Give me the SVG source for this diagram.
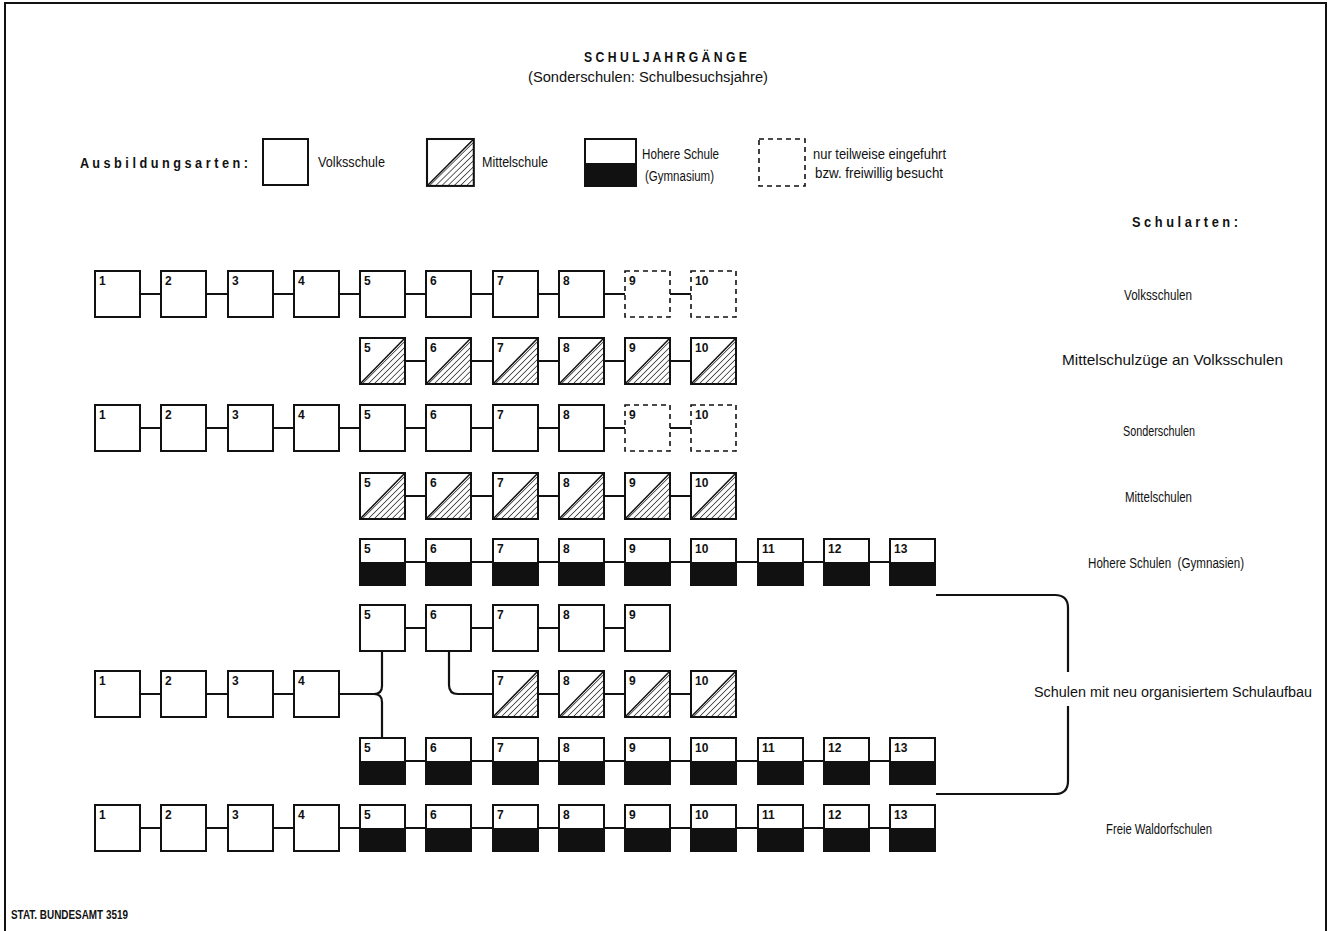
<svg xmlns="http://www.w3.org/2000/svg" xmlns:xlink="http://www.w3.org/1999/xlink" width="1333" height="931" viewBox="0 0 1333 931">
<style>
.bx{fill:none;stroke:#111;stroke-width:2}
.bxd{fill:none;stroke:#111;stroke-width:1.6;stroke-dasharray:5 4}
.blk{fill:#111}
.cn{fill:none;stroke:#111;stroke-width:2.2}
.num{font-family:"Liberation Sans",Arial,sans-serif;font-size:12px;font-weight:bold;fill:#111}
.lbl{font-family:"Liberation Sans",Arial,sans-serif;font-size:14px;fill:#111}
.hd{font-family:"Liberation Sans",Arial,sans-serif;font-size:14px;font-weight:bold;fill:#111}
</style>
<defs>
<pattern id="hatch" patternUnits="userSpaceOnUse" width="4.2" height="4.2" patternTransform="rotate(45)">
<line x1="0" y1="0" x2="0" y2="4.2" stroke="#111" stroke-width="1.3"/>
</pattern>
<g id="tv"><rect x="0" y="0" width="45" height="46" fill="#fff" class="bx"/></g>
<g id="tm"><rect x="0" y="0" width="45" height="46" fill="#fff"/><polygon points="0,46 45,0 45,46" fill="url(#hatch)"/><line x1="0" y1="46" x2="45" y2="0" stroke="#111" stroke-width="1.5"/><rect x="0" y="0" width="45" height="46" class="bx"/></g>
<g id="th"><rect x="0" y="0" width="45" height="46" fill="#fff"/><rect x="0" y="23" width="45" height="23" class="blk"/><rect x="0" y="0" width="45" height="46" class="bx"/></g>
<g id="td"><rect x="0" y="0" width="45" height="46" fill="#fff" class="bxd"/></g>
</defs>
<rect width="1333" height="931" fill="#fff"/>
<path d="M5,931 V3 H1326 V931" fill="none" stroke="#111" stroke-width="2"/>

<g id="title">
<text x="584" y="62" class="hd" font-size="15" textLength="163" lengthAdjust="spacingAndGlyphs">S C H U L J A H R G Ä N G E</text>
<text x="528" y="82" class="lbl" font-size="15" textLength="240" lengthAdjust="spacingAndGlyphs">(Sonderschulen: Schulbesuchsjahre)</text>
</g>

<g id="legend">
<text x="80" y="168" class="hd" font-size="15" textLength="168" lengthAdjust="spacingAndGlyphs">A u s b i l d u n g s a r t e n :</text>
<g id="legend-volksschule"><use xlink:href="#tv" x="263" y="139"/><text x="318" y="167" class="lbl" textLength="67" lengthAdjust="spacingAndGlyphs">Volksschule</text></g>
<g id="legend-mittelschule"><g transform="translate(427,139) scale(1.04,1.02)"><use xlink:href="#tm"/></g><text x="482" y="167" class="lbl" textLength="66" lengthAdjust="spacingAndGlyphs">Mittelschule</text></g>
<g id="legend-hoehere"><rect x="585" y="139" width="51" height="47" fill="#fff"/><rect x="585" y="163" width="51" height="23" class="blk"/><rect x="585" y="139" width="51" height="47" class="bx"/><text x="642" y="159" class="lbl" textLength="77" lengthAdjust="spacingAndGlyphs">Hohere Schule</text><text x="645" y="181" class="lbl" textLength="69" lengthAdjust="spacingAndGlyphs">(Gymnasium)</text></g>
<g id="legend-teilweise"><rect x="759" y="139" width="46" height="47" class="bxd"/><text x="813" y="159" class="lbl" textLength="133" lengthAdjust="spacingAndGlyphs">nur teilweise eingefuhrt</text><text x="815" y="178" class="lbl" textLength="128" lengthAdjust="spacingAndGlyphs">bzw. freiwillig besucht</text></g>
</g>

<text id="schularten" x="1132" y="227" class="hd" font-size="15" textLength="106" lengthAdjust="spacingAndGlyphs">S c h u l a r t e n :</text>

<g id="connectors">
<path class="cn" d="M140,294 H161 M206,294 H228 M273,294 H294 M339,294 H360 M405,294 H426 M471,294 H493 M538,294 H559 M604,294 H625 M670,294 H691"/>
<path class="cn" d="M405,361 H426 M471,361 H493 M538,361 H559 M604,361 H625 M670,361 H691"/>
<path class="cn" d="M140,428 H161 M206,428 H228 M273,428 H294 M339,428 H360 M405,428 H426 M471,428 H493 M538,428 H559 M604,428 H625 M670,428 H691"/>
<path class="cn" d="M405,496 H426 M471,496 H493 M538,496 H559 M604,496 H625 M670,496 H691"/>
<path class="cn" d="M405,562 H426 M471,562 H493 M538,562 H559 M604,562 H625 M670,562 H691 M736,562 H758 M803,562 H824 M869,562 H890"/>
<path class="cn" d="M405,628 H426 M471,628 H493 M538,628 H559 M604,628 H625"/>
<path class="cn" d="M140,694 H161 M206,694 H228 M273,694 H294 M538,694 H559 M604,694 H625 M670,694 H691"/>
<path class="cn" d="M339,694 H374 Q382,694 382,686 V651 M374,694 Q382,694 382,702 V738"/>
<path class="cn" d="M449,651 V685 Q449,694 458,694 H493"/>
<path class="cn" d="M405,761 H426 M471,761 H493 M538,761 H559 M604,761 H625 M670,761 H691 M736,761 H758 M803,761 H824 M869,761 H890"/>
<path class="cn" d="M140,828 H161 M206,828 H228 M273,828 H294 M339,828 H360 M405,828 H426 M471,828 H493 M538,828 H559 M604,828 H625 M670,828 H691 M736,828 H758 M803,828 H824 M869,828 H890"/>
<path class="cn" d="M936,595 H1055 Q1068,595 1068,608 V672 M1068,706 V781 Q1068,794 1055,794 H936"/>
</g>

<g id="row1">
<g id="r1-1"><use xlink:href="#tv" x="95" y="271"/><text x="99" y="285" class="num">1</text></g>
<g id="r1-2"><use xlink:href="#tv" x="161" y="271"/><text x="165" y="285" class="num">2</text></g>
<g id="r1-3"><use xlink:href="#tv" x="228" y="271"/><text x="232" y="285" class="num">3</text></g>
<g id="r1-4"><use xlink:href="#tv" x="294" y="271"/><text x="298" y="285" class="num">4</text></g>
<g id="r1-5"><use xlink:href="#tv" x="360" y="271"/><text x="364" y="285" class="num">5</text></g>
<g id="r1-6"><use xlink:href="#tv" x="426" y="271"/><text x="430" y="285" class="num">6</text></g>
<g id="r1-7"><use xlink:href="#tv" x="493" y="271"/><text x="497" y="285" class="num">7</text></g>
<g id="r1-8"><use xlink:href="#tv" x="559" y="271"/><text x="563" y="285" class="num">8</text></g>
<g id="r1-9"><use xlink:href="#td" x="625" y="271"/><text x="629" y="285" class="num">9</text></g>
<g id="r1-10"><use xlink:href="#td" x="691" y="271"/><text x="695" y="285" class="num">10</text></g>
<text x="1124" y="300" class="lbl" textLength="68" lengthAdjust="spacingAndGlyphs">Volksschulen</text>
</g>

<g id="row2">
<g id="r2-5"><use xlink:href="#tm" x="360" y="338"/><text x="364" y="352" class="num">5</text></g>
<g id="r2-6"><use xlink:href="#tm" x="426" y="338"/><text x="430" y="352" class="num">6</text></g>
<g id="r2-7"><use xlink:href="#tm" x="493" y="338"/><text x="497" y="352" class="num">7</text></g>
<g id="r2-8"><use xlink:href="#tm" x="559" y="338"/><text x="563" y="352" class="num">8</text></g>
<g id="r2-9"><use xlink:href="#tm" x="625" y="338"/><text x="629" y="352" class="num">9</text></g>
<g id="r2-10"><use xlink:href="#tm" x="691" y="338"/><text x="695" y="352" class="num">10</text></g>
<text x="1062" y="365" class="lbl" textLength="221" lengthAdjust="spacingAndGlyphs">Mittelschulzüge an Volksschulen</text>
</g>

<g id="row3">
<g id="r3-1"><use xlink:href="#tv" x="95" y="405"/><text x="99" y="419" class="num">1</text></g>
<g id="r3-2"><use xlink:href="#tv" x="161" y="405"/><text x="165" y="419" class="num">2</text></g>
<g id="r3-3"><use xlink:href="#tv" x="228" y="405"/><text x="232" y="419" class="num">3</text></g>
<g id="r3-4"><use xlink:href="#tv" x="294" y="405"/><text x="298" y="419" class="num">4</text></g>
<g id="r3-5"><use xlink:href="#tv" x="360" y="405"/><text x="364" y="419" class="num">5</text></g>
<g id="r3-6"><use xlink:href="#tv" x="426" y="405"/><text x="430" y="419" class="num">6</text></g>
<g id="r3-7"><use xlink:href="#tv" x="493" y="405"/><text x="497" y="419" class="num">7</text></g>
<g id="r3-8"><use xlink:href="#tv" x="559" y="405"/><text x="563" y="419" class="num">8</text></g>
<g id="r3-9"><use xlink:href="#td" x="625" y="405"/><text x="629" y="419" class="num">9</text></g>
<g id="r3-10"><use xlink:href="#td" x="691" y="405"/><text x="695" y="419" class="num">10</text></g>
<text x="1123" y="436" class="lbl" textLength="72" lengthAdjust="spacingAndGlyphs">Sonderschulen</text>
</g>

<g id="row4">
<g id="r4-5"><use xlink:href="#tm" x="360" y="473"/><text x="364" y="487" class="num">5</text></g>
<g id="r4-6"><use xlink:href="#tm" x="426" y="473"/><text x="430" y="487" class="num">6</text></g>
<g id="r4-7"><use xlink:href="#tm" x="493" y="473"/><text x="497" y="487" class="num">7</text></g>
<g id="r4-8"><use xlink:href="#tm" x="559" y="473"/><text x="563" y="487" class="num">8</text></g>
<g id="r4-9"><use xlink:href="#tm" x="625" y="473"/><text x="629" y="487" class="num">9</text></g>
<g id="r4-10"><use xlink:href="#tm" x="691" y="473"/><text x="695" y="487" class="num">10</text></g>
<text x="1125" y="502" class="lbl" textLength="67" lengthAdjust="spacingAndGlyphs">Mittelschulen</text>
</g>

<g id="row5">
<g id="r5-5"><use xlink:href="#th" x="360" y="539"/><text x="364" y="553" class="num">5</text></g>
<g id="r5-6"><use xlink:href="#th" x="426" y="539"/><text x="430" y="553" class="num">6</text></g>
<g id="r5-7"><use xlink:href="#th" x="493" y="539"/><text x="497" y="553" class="num">7</text></g>
<g id="r5-8"><use xlink:href="#th" x="559" y="539"/><text x="563" y="553" class="num">8</text></g>
<g id="r5-9"><use xlink:href="#th" x="625" y="539"/><text x="629" y="553" class="num">9</text></g>
<g id="r5-10"><use xlink:href="#th" x="691" y="539"/><text x="695" y="553" class="num">10</text></g>
<g id="r5-11"><use xlink:href="#th" x="758" y="539"/><text x="762" y="553" class="num">11</text></g>
<g id="r5-12"><use xlink:href="#th" x="824" y="539"/><text x="828" y="553" class="num">12</text></g>
<g id="r5-13"><use xlink:href="#th" x="890" y="539"/><text x="894" y="553" class="num">13</text></g>
<text x="1088" y="568" class="lbl" textLength="156" lengthAdjust="spacingAndGlyphs" xml:space="preserve">Hohere Schulen  (Gymnasien)</text>
</g>

<g id="row6">
<g id="r6-5"><use xlink:href="#tv" x="360" y="605"/><text x="364" y="619" class="num">5</text></g>
<g id="r6-6"><use xlink:href="#tv" x="426" y="605"/><text x="430" y="619" class="num">6</text></g>
<g id="r6-7"><use xlink:href="#tv" x="493" y="605"/><text x="497" y="619" class="num">7</text></g>
<g id="r6-8"><use xlink:href="#tv" x="559" y="605"/><text x="563" y="619" class="num">8</text></g>
<g id="r6-9"><use xlink:href="#tv" x="625" y="605"/><text x="629" y="619" class="num">9</text></g>
</g>

<g id="row7">
<g id="r7-1"><use xlink:href="#tv" x="95" y="671"/><text x="99" y="685" class="num">1</text></g>
<g id="r7-2"><use xlink:href="#tv" x="161" y="671"/><text x="165" y="685" class="num">2</text></g>
<g id="r7-3"><use xlink:href="#tv" x="228" y="671"/><text x="232" y="685" class="num">3</text></g>
<g id="r7-4"><use xlink:href="#tv" x="294" y="671"/><text x="298" y="685" class="num">4</text></g>
<g id="r7-m7"><use xlink:href="#tm" x="493" y="671"/><text x="497" y="685" class="num">7</text></g>
<g id="r7-m8"><use xlink:href="#tm" x="559" y="671"/><text x="563" y="685" class="num">8</text></g>
<g id="r7-m9"><use xlink:href="#tm" x="625" y="671"/><text x="629" y="685" class="num">9</text></g>
<g id="r7-m10"><use xlink:href="#tm" x="691" y="671"/><text x="695" y="685" class="num">10</text></g>
<text x="1034" y="697" class="lbl" textLength="278" lengthAdjust="spacingAndGlyphs">Schulen mit neu organisiertem Schulaufbau</text>
</g>

<g id="row8">
<g id="r8-5"><use xlink:href="#th" x="360" y="738"/><text x="364" y="752" class="num">5</text></g>
<g id="r8-6"><use xlink:href="#th" x="426" y="738"/><text x="430" y="752" class="num">6</text></g>
<g id="r8-7"><use xlink:href="#th" x="493" y="738"/><text x="497" y="752" class="num">7</text></g>
<g id="r8-8"><use xlink:href="#th" x="559" y="738"/><text x="563" y="752" class="num">8</text></g>
<g id="r8-9"><use xlink:href="#th" x="625" y="738"/><text x="629" y="752" class="num">9</text></g>
<g id="r8-10"><use xlink:href="#th" x="691" y="738"/><text x="695" y="752" class="num">10</text></g>
<g id="r8-11"><use xlink:href="#th" x="758" y="738"/><text x="762" y="752" class="num">11</text></g>
<g id="r8-12"><use xlink:href="#th" x="824" y="738"/><text x="828" y="752" class="num">12</text></g>
<g id="r8-13"><use xlink:href="#th" x="890" y="738"/><text x="894" y="752" class="num">13</text></g>
</g>

<g id="row9">
<g id="r9-1"><use xlink:href="#tv" x="95" y="805"/><text x="99" y="819" class="num">1</text></g>
<g id="r9-2"><use xlink:href="#tv" x="161" y="805"/><text x="165" y="819" class="num">2</text></g>
<g id="r9-3"><use xlink:href="#tv" x="228" y="805"/><text x="232" y="819" class="num">3</text></g>
<g id="r9-4"><use xlink:href="#tv" x="294" y="805"/><text x="298" y="819" class="num">4</text></g>
<g id="r9-5"><use xlink:href="#th" x="360" y="805"/><text x="364" y="819" class="num">5</text></g>
<g id="r9-6"><use xlink:href="#th" x="426" y="805"/><text x="430" y="819" class="num">6</text></g>
<g id="r9-7"><use xlink:href="#th" x="493" y="805"/><text x="497" y="819" class="num">7</text></g>
<g id="r9-8"><use xlink:href="#th" x="559" y="805"/><text x="563" y="819" class="num">8</text></g>
<g id="r9-9"><use xlink:href="#th" x="625" y="805"/><text x="629" y="819" class="num">9</text></g>
<g id="r9-10"><use xlink:href="#th" x="691" y="805"/><text x="695" y="819" class="num">10</text></g>
<g id="r9-11"><use xlink:href="#th" x="758" y="805"/><text x="762" y="819" class="num">11</text></g>
<g id="r9-12"><use xlink:href="#th" x="824" y="805"/><text x="828" y="819" class="num">12</text></g>
<g id="r9-13"><use xlink:href="#th" x="890" y="805"/><text x="894" y="819" class="num">13</text></g>
<text x="1106" y="834" class="lbl" textLength="106" lengthAdjust="spacingAndGlyphs">Freie Waldorfschulen</text>
</g>

<text id="source" x="11" y="919" class="num" font-size="11" textLength="117" lengthAdjust="spacingAndGlyphs">STAT. BUNDESAMT 3519</text>
</svg>
